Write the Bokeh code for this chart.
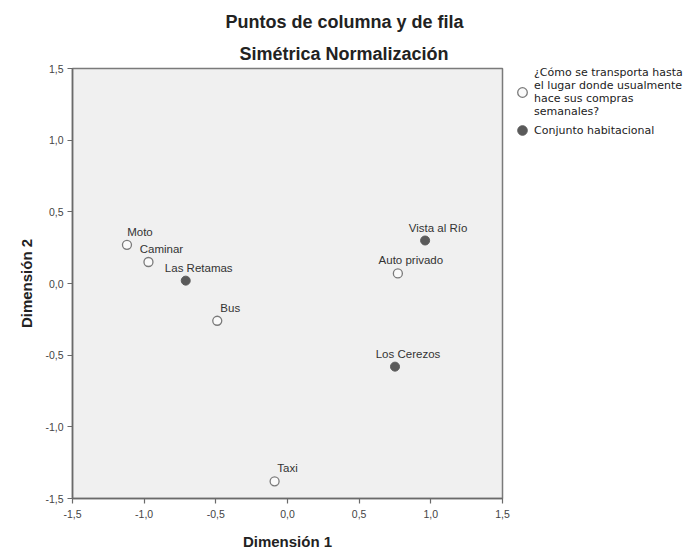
from bokeh.plotting import figure
from bokeh.models import (ColumnDataSource, Legend, LegendItem, FixedTicker,
                          CustomJSTickFormatter, Title)
from bokeh.core.properties import value
from bokeh.embed import file_html
from bokeh.resources import INLINE

# ---- data ----
transport_labels = ["Moto", "Caminar", "Bus", "Auto privado", "Taxi"]
transport_dim1 = [-1.12, -0.97, -0.49, 0.77, -0.09]
transport_dim2 = [0.27, 0.15, -0.26, 0.07, -1.38]

housing_labels = ["Las Retamas", "Vista al Río", "Los Cerezos"]
housing_dim1 = [-0.71, 0.96, 0.75]
housing_dim2 = [0.02, 0.30, -0.58]

tick_values = [-1.5, -1.0, -0.5, 0.0, 0.5, 1.0, 1.5]

title_main = "Puntos de columna y de fila"
title_sub = "Simétrica Normalización"
legend_transport = "¿Cómo se transporta hasta\nel lugar donde usualmente\nhace sus compras\nsemanales?"
legend_housing = "Conjunto habitacional"

FONT = "Liberation Sans"

p = figure(frame_width=430, frame_height=430, output_backend="svg", toolbar_location=None,
           x_range=(-1.5, 1.5), y_range=(-1.5, 1.5),
           min_border_left=72, min_border_right=193, min_border_top=68,
           min_border_bottom=55)

p.background_fill_color = "#f0f0f0"
p.border_fill_color = "white"
p.outline_line_color = "#7a7a7a"
p.outline_line_width = 1.5
p.xgrid.visible = False
p.ygrid.visible = False

fmt = CustomJSTickFormatter(code="return tick.toFixed(1).replace('.', ',');")
for ax in (p.xaxis[0], p.yaxis[0]):
    ax.ticker = FixedTicker(ticks=tick_values)
    ax.formatter = fmt
    ax.axis_line_color = "#6a6a6a"
    ax.axis_line_width = 1.5
    ax.major_tick_line_color = "#6a6a6a"
    ax.major_tick_line_width = 1.2
    ax.major_tick_out = 5
    ax.major_tick_in = 0
    ax.minor_tick_line_color = None
    ax.major_label_text_font = FONT
    ax.major_label_text_font_size = "10.5px"
    ax.major_label_text_color = "#444444"
    ax.axis_label_text_font = FONT
    ax.axis_label_text_font_size = "15px"
    ax.axis_label_text_font_style = "bold"
    ax.axis_label_text_color = "#222222"

p.xaxis.axis_label = "Dimensión 1"
p.yaxis.axis_label = "Dimensión 2"
p.xaxis.major_label_standoff = 6
p.yaxis.major_label_standoff = 4
p.xaxis.axis_label_standoff = 12
p.yaxis.axis_label_standoff = 7

src_t = ColumnDataSource(dict(x=transport_dim1, y=transport_dim2, name=transport_labels))
src_h = ColumnDataSource(dict(x=housing_dim1, y=housing_dim2, name=housing_labels))

r_t = p.scatter("x", "y", source=src_t, size=9, marker="circle",
                fill_color="#fafafa", line_color="#7a7a7a", line_width=1.3)
r_h = p.scatter("x", "y", source=src_h, size=9, marker="circle",
                fill_color="#5a5a5a", line_color="#5a5a5a", line_width=1)

for src in (src_t, src_h):
    p.text("x", "y", text="name", source=src, x_offset=13, y_offset=-13,
           text_align="center", text_baseline="middle",
           text_font=value(FONT), text_font_size="11.5px", text_color="#333333")

# titles (first added sits closest to the frame)
p.add_layout(Title(text=title_sub, align="left", offset=167, standoff=10,
                   text_font=FONT, text_font_size="18px", text_font_style="bold",
                   text_color="#222222"), "above")
p.add_layout(Title(text=title_main, align="left", offset=153, standoff=9,
                   text_font=FONT, text_font_size="18px", text_font_style="bold",
                   text_color="#222222"), "above")

legend = Legend(items=[LegendItem(label=legend_transport, renderers=[r_t]),
                       LegendItem(label=legend_housing, renderers=[r_h])],
                location=(8, 356))
legend.background_fill_alpha = 0
legend.border_line_color = None
legend.margin = 0
legend.padding = 0
legend.glyph_width = 24
legend.glyph_height = 24
legend.label_standoff = 0
legend.spacing = -4
legend.label_text_font = "DejaVu Sans"
legend.label_text_font_size = "11px"
legend.label_text_line_height = 0.9
legend.label_text_color = "#222222"
p.add_layout(legend, "right")

open("out.html", "w").write(file_html(p, INLINE))
